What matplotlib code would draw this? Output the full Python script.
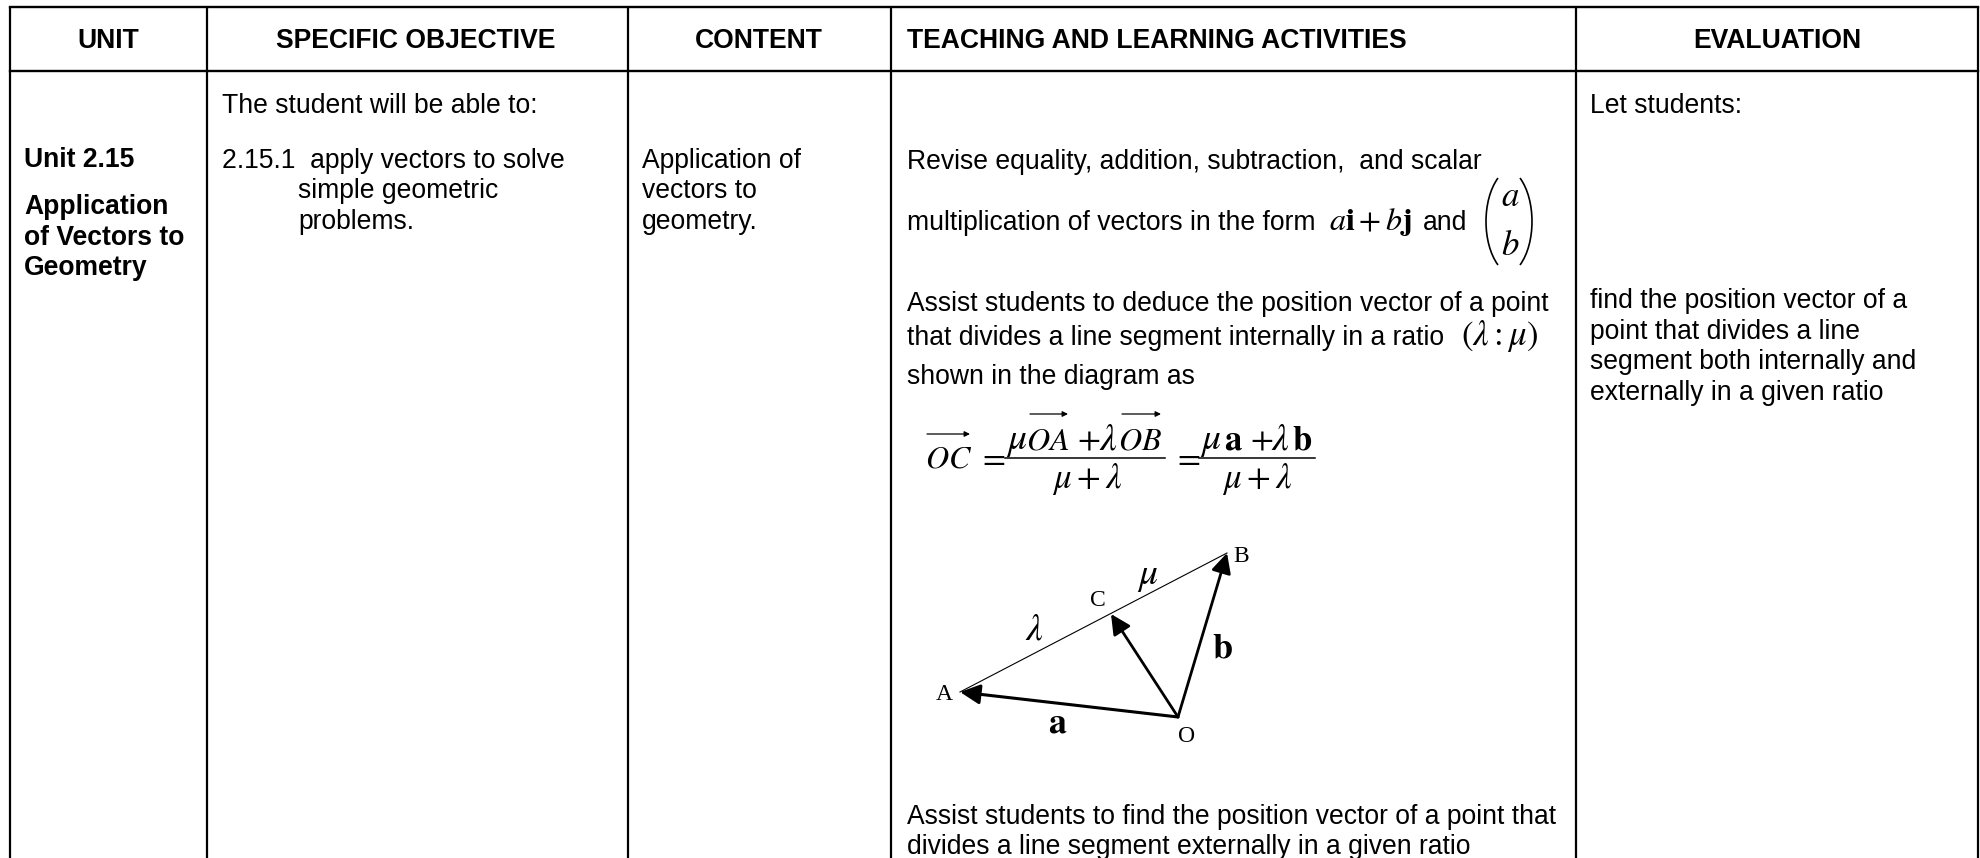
# table page with vectors diagram
import matplotlib
matplotlib.use("Agg")
import matplotlib.pyplot as plt
from matplotlib.patches import FancyArrowPatch, PathPatch
from matplotlib.path import Path

plt.rcParams['font.family'] = ['Liberation Sans', 'DejaVu Sans']
plt.rcParams['mathtext.fontset'] = 'stix'

W, H = 1980, 858
FS = 19.1

# table grid
col_lines = [10, 207, 628, 891, 1576, 1978]
row_lines = [7, 71]
headers = ["UNIT", "SPECIFIC OBJECTIVE", "CONTENT", "TEACHING AND LEARNING ACTIVITIES", "EVALUATION"]
header_x = [108, 416, 759, 907, 1777]
header_ha = ["center", "center", "center", "left", "center"]

# plain body text: (x, baseline, text)
bold_lines = [(24, 167, "Unit 2.15"), (24, 214, "Application"),
              (24, 245, "of Vectors to"), (24, 275, "Geometry")]
body_lines = [(222, 113, "The student will be able to:"),
              (222, 168, "2.15.1  apply vectors to solve"),
              (298, 198, "simple geometric"),
              (298, 229, "problems."),
              (642, 168, "Application of"),
              (642, 198, "vectors to"),
              (642, 229, "geometry."),
              (907, 169, "Revise equality, addition, subtraction,  and scalar"),
              (907, 230, "multiplication of vectors in the form"),
              (1423, 230, "and"),
              (907, 311, "Assist students to deduce the position vector of a point"),
              (907, 345, "that divides a line segment internally in a ratio"),
              (907, 384, "shown in the diagram as"),
              (907, 824, "Assist students to find the position vector of a point that"),
              (907, 854, "divides a line segment externally in a given ratio"),
              (1590, 113, "Let students:"),
              (1590, 308, "find the position vector of a"),
              (1590, 339, "point that divides a line"),
              (1590, 369, "segment both internally and"),
              (1590, 400, "externally in a given ratio")]

# maths pieces: (x, baseline, tex, size)
math_lines = [(1329, 230, r"$a\mathbf{i}+b\mathbf{j}$", 23),
              (1501, 206, r"$a$", 25),
              (1501, 255, r"$b$", 25),
              (1461, 345, r"$(\lambda:\mu)$", 25),
              (925, 467, r"$OC$", 23),
              (978, 467, r"$=$", 24),
              (1006, 449, r"$\mu$", 27),
              (1026, 449, r"$OA$", 23),
              (1077, 449, r"$+$", 24),
              (1099, 449, r"$\lambda$", 27),
              (1118, 449, r"$OB$", 23),
              (1052, 488, r"$\mu+\lambda$", 25),
              (1173, 467, r"$=$", 24),
              (1200, 449, r"$\mu$", 27),
              (1224, 449, r"$\mathbf{a}$", 25),
              (1250, 449, r"$+$", 24),
              (1271, 449, r"$\lambda$", 27),
              (1292, 449, r"$\mathbf{b}$", 25),
              (1222, 488, r"$\mu+\lambda$", 25)]
frac_bars = [(1005, 1165), (1199, 1315)]
frac_y = 458
# vector arrows over OC, OA, OB: (x0, x1, y)
over_arrows = [(927, 970, 434), (1030, 1068, 414), (1122, 1161, 414)]

# triangle diagram
pt_A = (960, 692)
pt_B = (1227, 553)
pt_C = (1111, 614)
pt_O = (1178, 717)
diagram_labels = [(944, 695, "A", 17), (1241, 557, "B", 17), (1098, 601, "C", 17), (1187, 737, "O", 17),
                  (1034, 630, r"$\lambda$", 27), (1148, 577, r"$\mu$", 27),
                  (1058, 724, r"$\mathbf{a}$", 26), (1222, 649, r"$\mathbf{b}$", 26)]

fig = plt.figure(figsize=(W / 100, H / 100), dpi=100)
ax = fig.add_axes([0, 0, 1, 1])
ax.set_xlim(0, W)
ax.set_ylim(H, 0)
ax.axis('off')

# grid lines, columns run off the bottom of the page
for x in col_lines:
    ax.plot([x, x], [row_lines[0], H], color='black', lw=1.6, solid_capstyle='butt')
for y in row_lines:
    ax.plot([col_lines[0], col_lines[-1]], [y, y], color='black', lw=1.7)

for x, ha, t in zip(header_x, header_ha, headers):
    ax.text(x, 48, t, ha=ha, va='baseline', fontsize=FS, fontweight='bold')

for x, y, t in bold_lines:
    ax.text(x, y, t, va='baseline', fontsize=FS, fontweight='bold')
for x, y, t in body_lines:
    ax.text(x, y, t, va='baseline', fontsize=FS)
for x, y, t, s in math_lines:
    ax.text(x, y, t, va='baseline', fontsize=s)

for x0, x1 in frac_bars:
    ax.plot([x0, x1], [frac_y, frac_y], color='black', lw=1.1)

for x0, x1, y in over_arrows:
    ax.add_patch(FancyArrowPatch((x0, y), (x1, y), arrowstyle='-|>', mutation_scale=8, lw=0.9,
                                 color='black', shrinkA=0, shrinkB=0))

# big brackets round the column vector
for x_edge, x_mid in [(1498, 1482), (1520, 1536)]:
    v = [(x_edge, 178), (x_mid, 200), (x_mid, 243), (x_edge, 265)]
    ax.add_patch(PathPatch(Path(v, [Path.MOVETO, Path.CURVE4, Path.CURVE4, Path.CURVE4]),
                           fc='none', ec='black', lw=1.2))

# triangle
ax.plot([pt_A[0], pt_B[0]], [pt_A[1], pt_B[1]], color='black', lw=0.8)
for tip, lw in [(pt_A, 2.2), (pt_B, 2.0), (pt_C, 2.0)]:
    ax.add_patch(FancyArrowPatch(pt_O, tip, arrowstyle='-|>', mutation_scale=30, lw=lw,
                                 color='black', shrinkA=0, shrinkB=0))

for x, y, t, s in diagram_labels:
    ax.text(x, y, t, ha='center', va='center', fontsize=s, family='Liberation Serif')

fig.savefig("out.png", dpi=100)
